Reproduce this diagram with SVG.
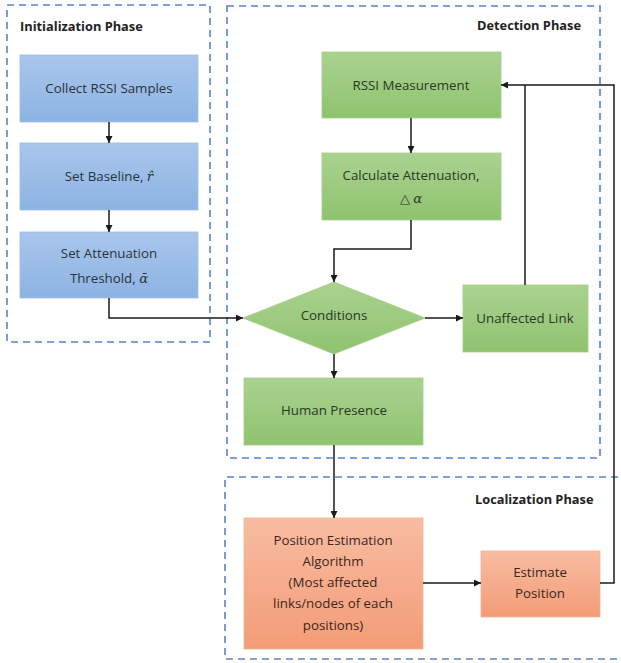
<svg xmlns="http://www.w3.org/2000/svg" width="621" height="663" viewBox="0 0 621 663">
<defs>
<linearGradient id="gB" x1="0" y1="0" x2="0" y2="1"><stop offset="0" stop-color="#a9c6ec"/><stop offset="1" stop-color="#8cb3e2"/></linearGradient>
<linearGradient id="gG" x1="0" y1="0" x2="0" y2="1"><stop offset="0" stop-color="#aad290"/><stop offset="1" stop-color="#8fc36f"/></linearGradient>
<linearGradient id="gO" x1="0" y1="0" x2="0" y2="1"><stop offset="0" stop-color="#f8bca2"/><stop offset="1" stop-color="#f39c76"/></linearGradient>
<marker id="ah" viewBox="0 0 10 10" refX="10" refY="5" markerWidth="7" markerHeight="7" markerUnits="userSpaceOnUse" orient="auto"><path d="M0,0 L10,5 L0,10 z" fill="#1a1a1a"/></marker>
</defs>
<style>
.phase{fill:none;stroke:#5b84c9;stroke-width:1.6;stroke-dasharray:7 5}
.title{font-family:"Open Sans","Liberation Sans",sans-serif;font-size:12.8px;font-weight:bold;fill:#222}
.b{fill:url(#gB);stroke:#9dbbe3;stroke-width:0.8}
.g{fill:url(#gG);stroke:#a3cc88;stroke-width:0.8}
.o{fill:url(#gO);stroke:#f3b393;stroke-width:0.8}
.t{font-family:"Open Sans","Liberation Sans",sans-serif;font-size:13.3px;text-anchor:middle;fill:#2a323b}
.tg{fill:#2b3724}
.to{fill:#3a271d}
.m{font-family:"DejaVu Serif","Liberation Serif",serif;font-style:italic}
.c{fill:none;stroke:#1a1a1a;stroke-width:1.5}
</style>
<rect width="621" height="663" fill="#ffffff"/>
<g id="phases">
<rect class="phase" x="7" y="5" width="203" height="337"/>
<rect class="phase" x="227" y="6" width="373" height="452"/>
<path class="phase" d="M630,477 H225 V659 H630"/>
<text class="title" x="20" y="31">Initialization  Phase</text>
<text class="title" x="477" y="30">Detection Phase</text>
<text class="title" x="475" y="504">Localization  Phase</text>
</g>
<g id="collect"><rect class="b" x="20" y="55" width="178" height="67"/><text class="t" x="109" y="93">Collect RSSI Samples</text></g>
<g id="baseline"><rect class="b" x="20" y="143" width="178" height="67"/><text class="t" x="109" y="181">Set Baseline, <tspan class="m">r̂</tspan></text></g>
<g id="threshold"><rect class="b" x="20" y="232" width="178" height="66"/><text class="t" x="109" y="258">Set Attenuation</text><text class="t" x="109" y="283">Threshold,  <tspan class="m">ᾱ</tspan></text></g>
<g id="rssi"><rect class="g" x="322" y="52" width="179" height="66"/><text class="t tg" x="411" y="90">RSSI Measurement</text></g>
<g id="calc"><rect class="g" x="322" y="153" width="179" height="67"/><text class="t tg" x="411" y="180">Calculate Attenuation,</text><text class="t tg" x="411" y="203">△ <tspan class="m">α</tspan></text></g>
<g id="conditions"><path class="g" d="M334,282 L425,318 L334,354 L243,318 z"/><text class="t tg" x="334" y="320">Conditions</text></g>
<g id="unaffected"><rect class="g" x="463" y="285" width="125" height="67"/><text class="t tg" x="525" y="323">Unaffected Link</text></g>
<g id="human"><rect class="g" x="244" y="378" width="179" height="67"/><text class="t tg" x="334" y="415">Human Presence</text></g>
<g id="algorithm"><rect class="o" x="244" y="518" width="179" height="131"/>
<text class="t to" x="333" y="545">Position Estimation</text>
<text class="t to" x="333" y="566">Algorithm</text>
<text class="t to" x="333" y="587">(Most affected</text>
<text class="t to" x="333" y="608">links/nodes of each</text>
<text class="t to" x="333" y="630">positions)</text></g>
<g id="estimate"><rect class="o" x="481" y="551" width="119" height="66"/><text class="t to" x="540" y="577">Estimate</text><text class="t to" x="540" y="598">Position</text></g>
<g id="connectors">
<path class="c" marker-end="url(#ah)" d="M109,122 V143"/>
<path class="c" marker-end="url(#ah)" d="M109,210 V232"/>
<path class="c" marker-end="url(#ah)" d="M109,298 V318 H243"/>
<path class="c" marker-end="url(#ah)" d="M411,118 V153"/>
<path class="c" marker-end="url(#ah)" d="M411,220 V249 H334 V282"/>
<path class="c" marker-end="url(#ah)" d="M425,318 H463"/>
<path class="c" marker-end="url(#ah)" d="M334,354 V378"/>
<path class="c" d="M525,285 V85"/>
<path class="c" marker-end="url(#ah)" d="M334,445 V518"/>
<path class="c" marker-end="url(#ah)" d="M423,583 H481"/>
<path class="c" marker-end="url(#ah)" d="M600,583 H614 V85 H501"/>
</g>
</svg>
